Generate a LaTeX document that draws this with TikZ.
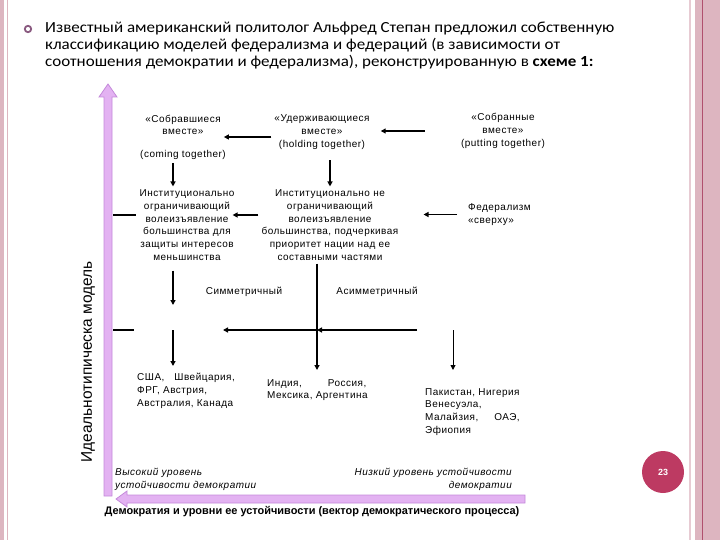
\documentclass[tikz,border=0pt]{standalone}
\usepackage{fontspec}
\setmainfont{Carlito}
\newfontfamily\introfont[FakeStretch=1.1]{Carlito}
\newfontfamily\diagfont[LetterSpace=5]{Liberation Sans}
\newfontfamily\labelfont{Liberation Sans}
\usetikzlibrary{arrows.meta,positioning,calc}
\definecolor{slidepink}{HTML}{DDB5C0}
\definecolor{slidered}{HTML}{B0506E}
\definecolor{bulletc}{HTML}{8A5A80}
\definecolor{axisfill}{HTML}{E3B2F2}
\definecolor{axisedge}{HTML}{C48ADA}
\definecolor{pagenum}{HTML}{BD3A62}
\tikzset{
  lbl/.style={align=center, inner sep=3bp, font=\diagfont\fontsize{10}{12.8}\selectfont},
  lbll/.style={lbl, align=left},
  slant/.style={lbl, font=\diagfont\itshape\fontsize{10}{12.5}\selectfont},
  flow/.style={line width=1.6bp, -{Triangle[length=5bp,width=5bp]}},
  thinflow/.style={line width=0.9bp, -{Triangle[length=5bp,width=5bp]}},
  tick/.style={line width=1.6bp},
  axisarrow/.style={fill=axisfill, draw=axisedge, line width=0.8bp},
}

\begin{document}
\begin{tikzpicture}[x=1bp, y=-1bp]
  \useasboundingbox (0,0) rectangle (720,540);
  % slide frame
  \fill[slidepink] (0,0) rectangle (4,540);
  \draw[slidepink, line width=0.6bp] (7,0) -- (7,540);
  \fill[slidepink!70] (689,0) rectangle (691,540);
  \fill[slidepink] (695,0) rectangle (720,540);
  \draw[slidered, line width=0.8bp] (702,0) -- (702,540);
  % heading text
  \draw[bulletc, line width=1.8bp, fill=white] (28,29) circle (3.2);
  \node[anchor=north west, align=left, inner sep=0,
        font=\introfont\fontsize{15.5}{17}\selectfont] (intro) at (45,22)
    {Известный американский политолог Альфред Степан предложил собственную\\
     классификацию моделей федерализма и федераций (в зависимости от\\
     соотношения демократии и федерализма), реконструированную в \textbf{схеме 1:}};
  % axes
  \path[axisarrow] (104,496) -- (104,97) -- (99,97) -- (108,84) -- (117,97)
    -- (112,97) -- (112,496) -- cycle;
  \path[axisarrow] (525,495) -- (127,495) -- (127,491) -- (116,499) -- (127,507)
    -- (127,503) -- (525,503) -- cycle;
  \node[rotate=90, inner sep=0, font=\labelfont\fontsize{15.5}{17}\selectfont]
    (ideal) at (88,362) {Идеальнотипическа модель};
  \node[inner sep=0, font=\labelfont\bfseries\fontsize{11}{12}\selectfont]
    (vec) at (312,512) {Демократия и уровни ее устойчивости (вектор демократического процесса)};
  \node[slant, align=left, anchor=north west] (hi) at (112,465)
    {Высокий уровень\\устойчивости демократии};
  \node[slant, align=right, anchor=north east] (lo) at (515,465)
    {Низкий уровень устойчивости\\демократии};
  % model nodes
  \node[lbl] (gath)   at (183,125) {«Собравшиеся\\вместе»};
  \node[lbl] (coming) at (183,155) {(coming together)};
  \node[lbl] (hold)   at (322,132) {«Удерживающиеся\\вместе»\\(holding together)};
  \node[lbl] (put)    at (503,131) {«Собранные\\вместе»\\(putting together)};
  \node[lbl] (lim)    at (187,225)
    {Институционально\\ограничивающий\\волеизъявление\\большинства для\\защиты интересов\\меньшинства};
  \node[lbl] (nolim)  at (330,225)
    {Институционально не\\ограничивающий\\волеизъявление\\большинства, подчеркивая\\приоритет нации над ее\\составными частями};
  \node[lbll, anchor=west] (top) at (465,214.5) {Федерализм\\«сверху»};
  \node[lbl] (sym)  at (244,292) {Симметричный};
  \node[lbl] (asym) at (377,292) {Асимметричный};
  \node[lbll, anchor=north west] (usa) at (134,370)
    {США,\hspace{10bp}Швейцария,\\ФРГ, Австрия,\\Австралия, Канада};
  \node[lbll, anchor=north west] (ind) at (264,376)
    {Индия,\hspace{26bp}Россия,\\Мексика, Аргентина};
  \node[lbll, anchor=north west] (pak) at (422,385)
    {Пакистан, Нигерия\\Венесуэла,\\Малайзия,\hspace{16bp}ОАЭ,\\Эфиопия};
  \node[circle, fill=pagenum, minimum size=42bp, inner sep=0, text=white,
        font=\labelfont\bfseries\fontsize{9}{10}\selectfont] (pnum) at (663,472) {23};
  % connectors
  \coordinate (ax1) at (113,215);
  \coordinate (ax2) at (113,330);
  \coordinate (jl) at (173,330);
  \coordinate (cx) at (317,330);
  \coordinate (hr) at (417,330);
  \coordinate (hl) at (223,330);
  \coordinate (jr) at (453,330);
  \coordinate (a1) at ($(hold.west)+(0,5)$);
  \coordinate (a2) at ($(coming.south)+(-10,0)$);
  \coordinate (a3) at ($(hold.south)+(8,0)$);
  \coordinate (a4) at ($(nolim.west)+(0,-10)$);
  \draw[flow] (a1) -- (a1 -| gath.east);
  \draw[flow, shorten <=33bp, shorten >=8bp] (put.west) -- (put.west -| hold.east);
  \draw[flow] (a2) -- (a2 |- lim.north);
  \draw[flow, shorten <=8bp] (a3) -- (a3 |- nolim.north);
  \draw[flow, shorten >=-5bp] (a4) -- (a4 -| lim.east);
  \draw[flow, shorten <=8bp, shorten >=22bp] (top.west) -- (top.west -| nolim.east);
  \draw[tick] (ax1) -- (ax1 -| lim.west);
  \draw[flow, shorten <=7bp, shorten >=25bp] (lim.south -| jl) -- (jl);
  \draw[flow, shorten >=4bp] (jl) -- (jl |- usa.north);
  \draw[flow, shorten >=6bp] (cx |- nolim.south) -- (cx |- ind.north);
  \draw[flow] (hr) -- (cx);
  \draw[flow] (cx) -- (hl);
  \draw[tick] (ax2) -- (ax2 -| usa.west);
  \draw[thinflow, shorten >=15bp] (jr) -- (jr |- pak.north);
\end{tikzpicture}
\end{document}
